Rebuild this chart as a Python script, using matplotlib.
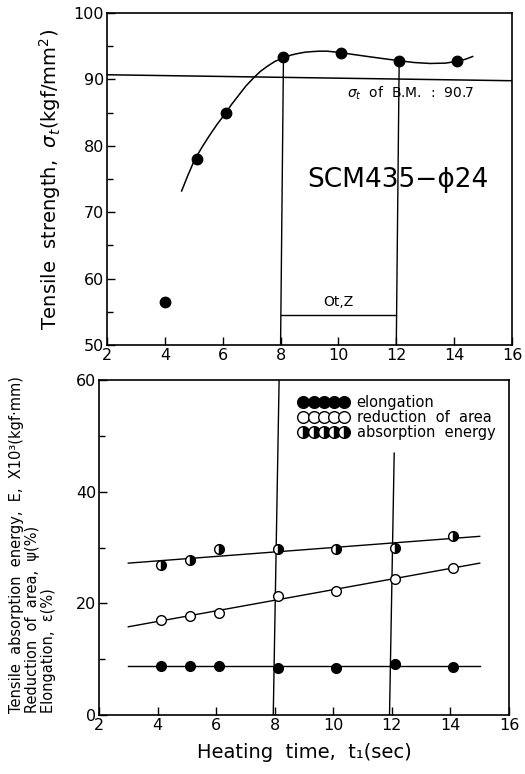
import matplotlib
matplotlib.use("Agg")
import matplotlib.pyplot as plt
from matplotlib.ticker import MultipleLocator

# ---- top panel: tensile strength ----
ts_time = [4.0, 5.1, 6.1, 8.1, 10.1, 12.1, 14.1]
ts_value = [56.5, 78.0, 84.9, 93.3, 94.0, 92.8, 92.8]

# hand-drawn fit curve
curve_time = [4.58, 4.8, 5.04, 5.3, 5.55, 5.8, 6.08, 6.3, 6.55, 6.8, 7.06, 7.3,
              7.55, 7.8, 8.09, 8.35, 8.6, 8.85, 9.13, 9.35, 9.6, 9.85, 10.11,
              10.6, 11.09, 11.6, 12.13, 12.6, 13.16, 13.7, 14.14, 14.4, 14.64]
curve_value = [73.2, 75.6, 78.0, 79.9, 81.6, 83.2, 84.8, 86.2, 87.6, 89.0, 90.2, 91.2,
               92.0, 92.7, 93.25, 93.65, 93.9, 94.1, 94.2, 94.25, 94.25, 94.15, 94.0,
               93.7, 93.4, 93.1, 92.8, 92.55, 92.4, 92.45, 92.75, 93.05, 93.45]

bm_line_x = [2.0, 16.0]
bm_line_y = [90.7, 89.8]
opt_start = [8.1, 8.0]     # top x, bottom x of the left vertical line
opt_end = [12.1, 12.0]
opt_bar_y = 54.5

# ---- bottom panel ----
t = [4.1, 5.1, 6.1, 8.1, 10.1, 12.1, 14.1]
elongation = [8.8, 8.8, 8.8, 8.5, 8.5, 9.1, 8.6]
reduction = [17.0, 17.8, 18.2, 21.3, 22.2, 24.4, 26.3]
absorption = [26.9, 27.8, 29.7, 29.8, 29.8, 29.9, 32.1]

fit_x = [3.0, 15.0]
elong_fit = [8.8, 8.8]
red_fit = [15.8, 27.2]
abs_fit = [27.2, 32.0]

xticks = [2, 4, 6, 8, 10, 12, 14, 16]

fig = plt.figure(figsize=(5.25, 7.74), dpi=100)
ax1 = fig.add_axes([107 / 525, 1 - 345 / 774, 405 / 525, 332 / 774])
ax2 = fig.add_axes([99 / 525, 1 - 715 / 774, 410 / 525, 335 / 774])

for ax in (ax1, ax2):
    for s in ax.spines.values():
        s.set_linewidth(1.2)
    ax.tick_params(which="both", direction="in", labelsize=11.5, pad=2,
                   top=False, right=False)
    ax.tick_params(which="major", length=6, width=1)
    ax.tick_params(which="minor", length=4, width=1)
    ax.set_xlim(2, 16)
    ax.set_xticks(xticks)

# top
ax1.set_ylim(50, 100)
ax1.yaxis.set_major_locator(MultipleLocator(10))
ax1.yaxis.set_minor_locator(MultipleLocator(5))
ax1.plot(curve_time, curve_value, color="black", lw=1.1)
ax1.plot(ts_time, ts_value, "o", color="black", ms=7.5)
ax1.plot(bm_line_x, bm_line_y, color="black", lw=1.1)
ax1.plot([opt_start[0], opt_start[1]], [ts_value[3], 50], color="black", lw=1)
ax1.plot([opt_end[0], opt_end[1]], [ts_value[5], 50], color="black", lw=1)
ax1.plot([opt_start[1], opt_end[1]], [opt_bar_y, opt_bar_y], color="black", lw=1)
ax1.text(10.0, 55.4, "Ot,Z", ha="center", va="bottom", fontsize=10)
ax1.text(10.3, 87.9, r"$\sigma_t$  of  B.M.  :  90.7", ha="left", va="center", fontsize=10)
ax1.text(12.05, 74.9, "SCM435−ϕ24", ha="center", va="center", fontsize=19)
fig.text(50 / 525, 1 - 179 / 774, r"Tensile  strength,  $\sigma_t$(kgf/mm$^2$)",
         rotation=90, ha="center", va="center", fontsize=14)

# bottom
ax2.set_ylim(0, 60)
ax2.yaxis.set_major_locator(MultipleLocator(20))
ax2.yaxis.set_minor_locator(MultipleLocator(10))
ax2.plot([8.15, 7.95], [60, 0], color="black", lw=1)
ax2.plot([12.08, 11.92], [46.9, 0], color="black", lw=1)
ax2.plot(fit_x, elong_fit, color="black", lw=1)
ax2.plot(fit_x, red_fit, color="black", lw=1)
ax2.plot(fit_x, abs_fit, color="black", lw=1)
h1, = ax2.plot(t, elongation, "o", color="black", ms=7, label="elongation")
h2, = ax2.plot(t, reduction, "o", mfc="white", mec="black", mew=1, ms=7,
               label="reduction  of  area")
h3, = ax2.plot(t, absorption, "o", mfc="black", mec="black", mfcalt="white",
               fillstyle="right", mew=1, ms=7, label="absorption  energy")

leg = ax2.legend(handles=[h1, h2, h3], loc="upper left",
                 bbox_to_anchor=((299 - 99) / 410, 0.955), numpoints=5,
                 handlelength=3.4, handletextpad=0.55, labelspacing=0.0,
                 borderpad=0, borderaxespad=0, frameon=False, fontsize=10.5,
                 markerscale=1.2)

ax2.set_xlabel("Heating  time,  t₁(sec)", fontsize=14, labelpad=7)

ylab_y = 1 - 713 / 774
fig.text(17 / 525, ylab_y, "Tensile  absorption  energy,  E,  X10³(kgf·mm)",
         rotation=90, ha="center", va="bottom", fontsize=10.5)
fig.text(33 / 525, ylab_y, "Reduction  of  area,  ψ(%)",
         rotation=90, ha="center", va="bottom", fontsize=10.5)
fig.text(48 / 525, ylab_y, "Elongation,  ε(%)",
         rotation=90, ha="center", va="bottom", fontsize=10.5)

fig.savefig("out.png", dpi=100)
